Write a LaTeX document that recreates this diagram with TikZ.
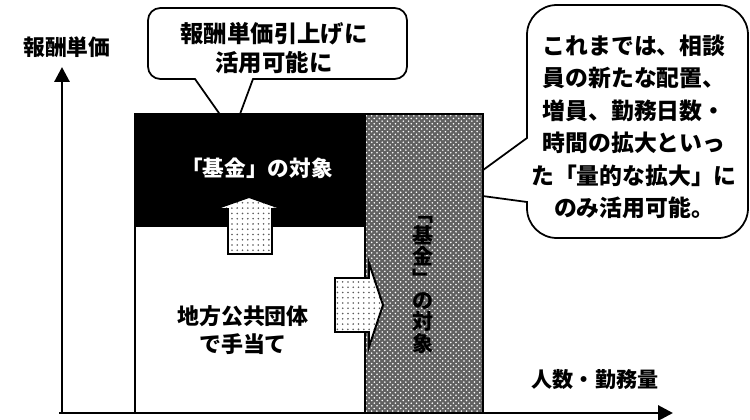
\documentclass[tikz,border=0pt]{standalone}
\usepackage{fontspec}
\setmainfont{Noto Sans CJK JP}
\usetikzlibrary{arrows.meta,patterns}
\tikzset{
  axisline/.style={line width=1.7pt, -{Triangle[length=8.5pt,width=8.5pt]}},
  bubble/.style={draw, fill=white, line width=1pt},
  boxline/.style={draw, line width=1.1pt},
  dotsfill/.style={preaction={fill=white}, pattern=dots, pattern color=black!65},
  jp/.style 2 args={inner sep=0pt, align=center, font=\bfseries\fontsize{#1}{#2}\selectfont},
}

\begin{document}
\begin{tikzpicture}[x=0.2mm, y=-0.2mm]
			\useasboundingbox (0,0) rectangle (750,419);
			
			% speech bubbles (pointers are covered by the boxes below)
			\draw[bubble] (233,133) -- (195,79) [rounded corners=7pt] -- (148,79) -- (148,8) -- (407,8) -- (407,79) [sharp corners] -- (253,79) -- cycle;
			\draw[bubble] (453,192) -- (527,138) [rounded corners=17pt] -- (527,5) -- (748,5) -- (748,238) -- (527,238) [sharp corners] -- (527,202) -- cycle;
			
			% boxes
			\draw[boxline, fill=white] (135,226) rectangle (365,413);
			\draw[boxline, fill=black] (135,114) rectangle (365,226);
			\draw[boxline, preaction={fill=black!62}, pattern=crosshatch dots, pattern color=white] (365,114) rectangle (483,413);
			
			% block arrows
			\draw[boxline, dotsfill] (228,254) -- (228,209) -- (215,209) -- (249,197) -- (283,209) -- (272,209) -- (272,254) -- cycle;
			\draw[boxline, dotsfill] (335,278) -- (369,278) -- (369,263) -- (383,305) -- (369,347) -- (369,332) -- (335,332) -- cycle;
			
			% axes
			\coordinate (origin) at (62,413);
			\coordinate (ytip) at (62,67);
			\coordinate (xstart) at (59,413);
			\coordinate (xtip) at (673,413);
			\draw[axisline] (origin) -- (ytip);
			\draw[axisline] (xstart) -- (xtip);
			
			% texts
			\node[jp={12.4pt}{14pt}] (ylabel) at (67,47) {報酬単価};
			\node[jp={12pt}{14pt}] (xlabel) at (595,380) {人数・勤務量};
			\node[jp={13.3pt}{16.5pt}] (raisetext) at (274,48) {報酬単価引上げに\\活用可能に};
			\node[jp={13pt}{18.5pt}] (pasttext) at (634,127) {これまでは、相談\\員の新たな配置、\\増員、勤務日数・\\時間の拡大といっ\\た「量的な拡大」に\\のみ活用可能。};
			\node[jp={12.3pt}{14pt}, text=white] (fundtop) at (257,168) {「基金」の対象};
			\node[jp={12.5pt}{16pt}] (localtext) at (243,330) {地方公共団体\\で手当て};
			\node[jp={12pt}{12.3pt}] (fundside) at (423,285) {﹁\\基\\金\\﹂\\の\\対\\象};
			
		\end{tikzpicture}
\end{document}
